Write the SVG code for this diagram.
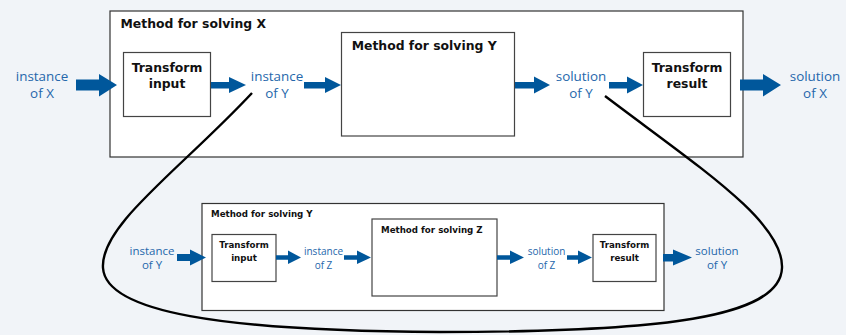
<svg xmlns="http://www.w3.org/2000/svg" width="846" height="335" viewBox="0 0 846 335">
<style>
.bg{fill:#f1f4f8}
.box{fill:#fff;stroke:#333;stroke-width:1.2}
.ibox{fill:#fff;stroke:#444;stroke-width:1.2}
.t{font-family:"DejaVu Sans",Verdana,sans-serif;font-weight:bold;fill:#111}
.tb{font-size:12.4px}
.ts{font-size:8.7px}
.lbl{font-family:"Open Sans","Noto Sans",sans-serif;fill:#2567ab;text-anchor:middle}
.lb{font-size:13.4px}
.lm{font-size:11.5px}
.ls{font-size:10px}
.arr{fill:#00579b}
.curve{fill:none;stroke:#000;stroke-width:2.4}
</style>
<rect class="bg" x="0" y="0" width="846" height="335"/>

<g id="methodX">
<rect class="box" x="110" y="11" width="633" height="146"/>
<text class="t tb" x="120.5" y="28.3">Method for solving X</text>
</g>
<g id="transformInputTop">
<rect class="ibox" x="123.5" y="52.5" width="87" height="64"/>
<text class="t tb" x="167" y="72" text-anchor="middle">Transform</text>
<text class="t tb" x="167" y="88" text-anchor="middle">input</text>
</g>
<g id="methodYTop">
<rect class="ibox" x="341.5" y="32.5" width="173" height="103.5"/>
<text class="t tb" x="351.7" y="50">Method for solving Y</text>
</g>
<g id="transformResultTop">
<rect class="ibox" x="643.5" y="52.5" width="87" height="64"/>
<text class="t tb" x="687" y="72" text-anchor="middle">Transform</text>
<text class="t tb" x="687" y="88" text-anchor="middle">result</text>
</g>
<g id="labelsTop">
<text class="lbl lb" x="42" y="80.5">instance</text>
<text class="lbl lb" x="42" y="97.8">of X</text>
<text class="lbl lb" x="277" y="80.5">instance</text>
<text class="lbl lb" x="277" y="97.8">of Y</text>
<text class="lbl lb" x="581" y="80.5">solution</text>
<text class="lbl lb" x="581" y="97.8">of Y</text>
<text class="lbl lb" x="815" y="80.5">solution</text>
<text class="lbl lb" x="815" y="97.8">of X</text>
</g>

<g id="methodYBottom">
<rect class="box" x="202" y="203.5" width="462" height="107"/>
<text class="t ts" x="211" y="217">Method for solving Y</text>
</g>
<g id="transformInputBottom">
<rect class="ibox" x="212" y="234.5" width="64" height="47"/>
<text class="t ts" x="244" y="248" text-anchor="middle">Transform</text>
<text class="t ts" x="244" y="260.5" text-anchor="middle">input</text>
</g>
<g id="methodZ">
<rect class="ibox" x="372" y="219" width="125" height="77"/>
<text class="t ts" x="381" y="233">Method for solving Z</text>
</g>
<g id="transformResultBottom">
<rect class="ibox" x="593" y="234.5" width="63" height="47"/>
<text class="t ts" x="624.5" y="248" text-anchor="middle">Transform</text>
<text class="t ts" x="624.5" y="260.5" text-anchor="middle">result</text>
</g>
<g id="labelsBottom">
<text class="lbl lm" x="152" y="255.3">instance</text>
<text class="lbl lm" x="152" y="269.3">of Y</text>
<text class="lbl ls" x="323.5" y="255.3">instance</text>
<text class="lbl ls" x="323.5" y="269">of Z</text>
<text class="lbl ls" x="546.5" y="255.3">solution</text>
<text class="lbl ls" x="546.5" y="269">of Z</text>
<text class="lbl lm" x="717" y="255.3">solution</text>
<text class="lbl lm" x="717" y="269.3">of Y</text>
</g>

<g id="connectors">
<path class="curve" d="M252,93 C180,170 100,225 103,268 C106,312 220,331 440,332 C660,332 780,318 782,268 C784,222 700,168 605,96"/>
<polygon class="arr" points="76,79.5 99,79.5 99,74 117,85 99,96.5 99,90.5 76,90.5"/>
<polygon class="arr" points="211,82 229,82 229,77 246,85 229,93 229,88.5 211,88.5"/>
<polygon class="arr" points="304,82 325,82 325,77 341,85 325,93 325,88.5 304,88.5"/>
<polygon class="arr" points="515,82 534,82 534,76.5 550,85 534,93.5 534,88.5 515,88.5"/>
<polygon class="arr" points="609,82 627,82 627,76.5 643,85 627,93.5 627,88.5 609,88.5"/>
<polygon class="arr" points="740,79.5 763,79.5 763,74 781,85 763,96.5 763,90.5 740,90.5"/>
<polygon class="arr" points="177,254 190,254 190,249.5 206,257.5 190,265.5 190,261 177,261"/>
<polygon class="arr" points="276,255.2 288,255.2 288,250.5 301,257.5 288,264 288,259.8 276,259.8"/>
<polygon class="arr" points="344,255.2 357,255.2 357,250.5 371,257.5 357,264 357,259.8 344,259.8"/>
<polygon class="arr" points="497,255.2 510,255.2 510,250.5 524,257.5 510,264 510,259.8 497,259.8"/>
<polygon class="arr" points="567,255.2 578,255.2 578,250.5 592,257.5 578,264 578,259.8 567,259.8"/>
<polygon class="arr" points="663,254 673,254 673,249.5 692,257.5 673,265.5 673,261.5 663,261.5"/>
</g>
</svg>
